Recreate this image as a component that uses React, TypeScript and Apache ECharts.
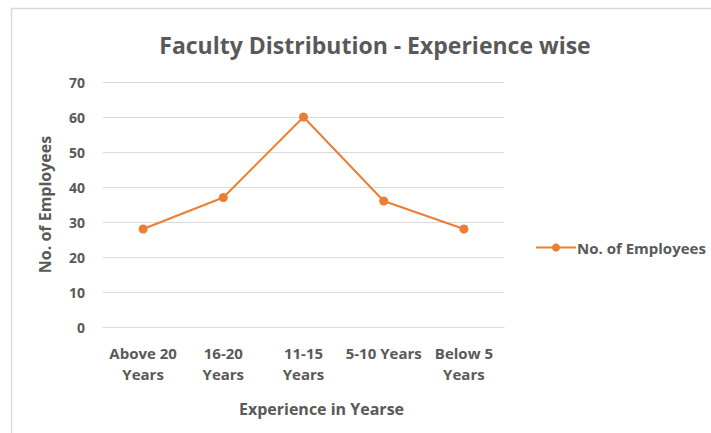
import React, { useEffect, useRef } from "react";
import * as echarts from "echarts";

const categories = ["Above 20\nYears", "16-20\nYears", "11-15\nYears", "5-10 Years", "Below 5\nYears"];
const employees = [28, 37, 60, 36, 28];
const seriesName = "No. of Employees";
const titleText = "Faculty Distribution - Experience wise";
const xAxisName = "Experience in Yearse";
const yAxisName = "No. of Employees";

const FONT = "'Open Sans', sans-serif";
const TEXT = "#595959";
const ORANGE = "#ED7D31";

export default function App() {
  const ref = useRef<HTMLDivElement>(null);
  useEffect(() => {
    if (!ref.current) return;
    const chart = echarts.init(ref.current, null, { renderer: "svg" });
    chart.setOption({
      animation: false,
      backgroundColor: "#ffffff",
      title: {
        text: titleText,
        left: 370,
        top: 28,
        textAlign: "center",
        textStyle: { fontFamily: FONT, fontSize: 23, fontWeight: "bold", color: TEXT },
      },
      legend: {
        left: 530,
        top: 235,
        itemWidth: 40,
        itemHeight: 10,
        itemGap: 4,
        data: [seriesName],
        textStyle: { fontFamily: FONT, fontSize: 15, fontWeight: "bold", color: TEXT, padding: [0, 0, 0, -4] },
      },
      grid: { left: 103, right: 207, top: 82, bottom: 106, containLabel: false },
      xAxis: {
        type: "category",
        data: categories,
        boundaryGap: true,
        name: xAxisName,
        nameLocation: "middle",
        nameGap: 74,
        nameTextStyle: { fontFamily: FONT, fontSize: 16, fontWeight: "bold", color: TEXT, padding: [0, 0, 0, 36] },
        axisLine: { show: true, lineStyle: { color: "#D9D9D9", width: 1 } },
        axisTick: { show: false },
        axisLabel: {
          interval: 0,
          margin: 15,
          fontFamily: FONT,
          fontSize: 15,
          fontWeight: "bold",
          color: TEXT,
          lineHeight: 21,
        },
      },
      yAxis: {
        type: "value",
        min: 0,
        max: 70,
        interval: 10,
        name: yAxisName,
        nameLocation: "middle",
        nameGap: 50,
        nameTextStyle: { fontFamily: FONT, fontSize: 16, fontWeight: "bold", color: TEXT },
        axisLine: { show: false },
        axisTick: { show: false },
        splitLine: { lineStyle: { color: "#D9D9D9", width: 1 } },
        axisLabel: { margin: 18, fontFamily: FONT, fontSize: 14, fontWeight: "bold", color: TEXT },
      },
      series: [
        {
          name: seriesName,
          type: "line",
          data: employees,
          symbol: "circle",
          symbolSize: 9,
          itemStyle: { color: ORANGE },
          lineStyle: { color: ORANGE, width: 2 },
        },
      ],
      graphic: [
        {
          type: "line",
          shape: { x1: 11.5, y1: 8.5, x2: 711, y2: 8.5 },
          style: { stroke: "#D9D9D9", lineWidth: 1.5 },
        },
        {
          type: "line",
          shape: { x1: 11.5, y1: 8.5, x2: 11.5, y2: 433 },
          style: { stroke: "#D9D9D9", lineWidth: 1.5 },
        },
      ],
    });
    return () => chart.dispose();
  }, []);
  return (
    <div
      ref={ref}
      style={{ position: "absolute", left: 0, top: 0, width: 711, height: 433 }}
    />
  );
}
